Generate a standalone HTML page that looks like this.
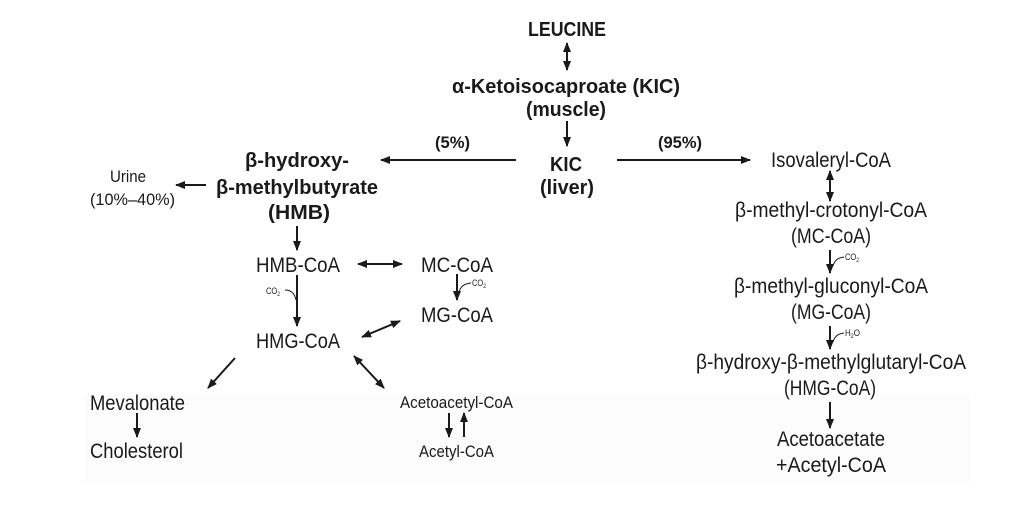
<!DOCTYPE html>
<html><head><meta charset="utf-8"><style>
html,body{margin:0;padding:0;background:#fff;width:1024px;height:515px;overflow:hidden}
svg text{font-family:"Liberation Sans",sans-serif;fill:#1a1a1a}
.b{font-weight:bold}
</style></head><body>
<svg width="1024" height="515" viewBox="0 0 1024 515" xmlns="http://www.w3.org/2000/svg">
<defs>
<marker id="a" viewBox="0 0 10 10" refX="9" refY="5" markerWidth="5" markerHeight="5" orient="auto-start-reverse"><path d="M0,1 L10,5 L0,9 Z" fill="#1a1a1a"/></marker>
</defs>
<rect x="85" y="395" width="885" height="88" fill="#fcfcfc"/>
<g stroke="#1a1a1a" stroke-width="2" fill="none">
<line x1="567" y1="43" x2="567" y2="70" marker-start="url(#a)" marker-end="url(#a)"/>
<line x1="567" y1="121" x2="567" y2="146" marker-end="url(#a)"/>
<line x1="516" y1="160" x2="381" y2="160" marker-end="url(#a)"/>
<line x1="617" y1="160" x2="750" y2="160" marker-end="url(#a)"/>
<line x1="206" y1="185" x2="176" y2="185" marker-end="url(#a)"/>
<line x1="297" y1="226" x2="297" y2="250" marker-end="url(#a)"/>
<line x1="358" y1="264" x2="402" y2="264" marker-start="url(#a)" marker-end="url(#a)"/>
<line x1="457" y1="274" x2="457" y2="300" marker-end="url(#a)"/>
<line x1="297" y1="275" x2="297" y2="326" marker-end="url(#a)"/>
<line x1="362" y1="337" x2="400" y2="321" marker-start="url(#a)" marker-end="url(#a)"/>
<line x1="235" y1="358" x2="208" y2="388" marker-end="url(#a)"/>
<line x1="354" y1="356" x2="384" y2="388" marker-start="url(#a)" marker-end="url(#a)"/>
<line x1="137" y1="413" x2="137" y2="437" marker-end="url(#a)"/>
<line x1="449" y1="413" x2="449" y2="437" marker-end="url(#a)"/>
<line x1="464" y1="437" x2="464" y2="413" marker-end="url(#a)"/>
<line x1="830" y1="171" x2="830" y2="201" marker-start="url(#a)" marker-end="url(#a)"/>
<line x1="830" y1="250" x2="830" y2="273" marker-end="url(#a)"/>
<line x1="830" y1="326" x2="830" y2="349" marker-end="url(#a)"/>
<line x1="830" y1="402" x2="830" y2="428" marker-end="url(#a)"/>
</g>
<g stroke="#1a1a1a" stroke-width="1" fill="none">
<path d="M285,290 Q294,290 296,300"/>
<path d="M471,283 Q461,284 459,292"/>
<path d="M844,257 Q835,258 833,266"/>
<path d="M844,333 Q835,334 833,342"/>
</g>
<g font-size="20">
<text class="b" x="528" y="36" textLength="78" lengthAdjust="spacingAndGlyphs">LEUCINE</text>
<text class="b" x="452" y="93" textLength="228" lengthAdjust="spacingAndGlyphs">α-Ketoisocaproate (KIC)</text>
<text class="b" x="526" y="116" textLength="80" lengthAdjust="spacingAndGlyphs">(muscle)</text>
<text class="b" x="550" y="171" textLength="32" lengthAdjust="spacingAndGlyphs">KIC</text>
<text class="b" x="540" y="194" textLength="54" lengthAdjust="spacingAndGlyphs">(liver)</text>
<text class="b" x="245" y="167" textLength="104" lengthAdjust="spacingAndGlyphs">β-hydroxy-</text>
<text class="b" x="216" y="194" textLength="162" lengthAdjust="spacingAndGlyphs">β-methylbutyrate</text>
<text class="b" x="268" y="219" textLength="62" lengthAdjust="spacingAndGlyphs">(HMB)</text>
</g>
<g font-size="17">
<text class="b" x="435" y="148" textLength="35" lengthAdjust="spacingAndGlyphs">(5%)</text>
<text class="b" x="658" y="148" textLength="44" lengthAdjust="spacingAndGlyphs">(95%)</text>
<text x="110" y="182" textLength="36" lengthAdjust="spacingAndGlyphs">Urine</text>
<text x="90" y="205" textLength="85" lengthAdjust="spacingAndGlyphs">(10%–40%)</text>
<text x="400" y="408" textLength="113" lengthAdjust="spacingAndGlyphs">Acetoacetyl-CoA</text>
<text x="419" y="457" textLength="75" lengthAdjust="spacingAndGlyphs">Acetyl-CoA</text>
</g>
<g font-size="21">
<text x="256" y="272" textLength="84" lengthAdjust="spacingAndGlyphs">HMB-CoA</text>
<text x="421" y="272" textLength="72" lengthAdjust="spacingAndGlyphs">MC-CoA</text>
<text x="421" y="322" textLength="72" lengthAdjust="spacingAndGlyphs">MG-CoA</text>
<text x="256" y="348" textLength="84" lengthAdjust="spacingAndGlyphs">HMG-CoA</text>
<text x="90" y="410" textLength="95" lengthAdjust="spacingAndGlyphs">Mevalonate</text>
<text x="90" y="458" textLength="93" lengthAdjust="spacingAndGlyphs">Cholesterol</text>
<text x="771" y="167" textLength="120" lengthAdjust="spacingAndGlyphs">Isovaleryl-CoA</text>
<text x="735" y="217" textLength="192" lengthAdjust="spacingAndGlyphs">β-methyl-crotonyl-CoA</text>
<text x="791" y="243" textLength="80" lengthAdjust="spacingAndGlyphs">(MC-CoA)</text>
<text x="734" y="293" textLength="194" lengthAdjust="spacingAndGlyphs">β-methyl-gluconyl-CoA</text>
<text x="791" y="319" textLength="80" lengthAdjust="spacingAndGlyphs">(MG-CoA)</text>
<text x="696" y="369" textLength="270" lengthAdjust="spacingAndGlyphs">β-hydroxy-β-methylglutaryl-CoA</text>
<text x="784" y="395" textLength="92" lengthAdjust="spacingAndGlyphs">(HMG-CoA)</text>
<text x="777" y="446" textLength="108" lengthAdjust="spacingAndGlyphs">Acetoacetate</text>
<text x="776" y="472" textLength="110" lengthAdjust="spacingAndGlyphs">+Acetyl-CoA</text>
</g>
<g font-size="9">
<text x="266" y="294" textLength="14" lengthAdjust="spacingAndGlyphs">CO<tspan font-size="6" dy="2">2</tspan></text>
<text x="472" y="286" textLength="14" lengthAdjust="spacingAndGlyphs">CO<tspan font-size="6" dy="2">2</tspan></text>
<text x="845" y="260" textLength="14" lengthAdjust="spacingAndGlyphs">CO<tspan font-size="6" dy="2">2</tspan></text>
<text x="845" y="336" textLength="15" lengthAdjust="spacingAndGlyphs">H<tspan font-size="6" dy="2">2</tspan><tspan dy="-2">O</tspan></text>
</g>
</svg>
</body></html>
